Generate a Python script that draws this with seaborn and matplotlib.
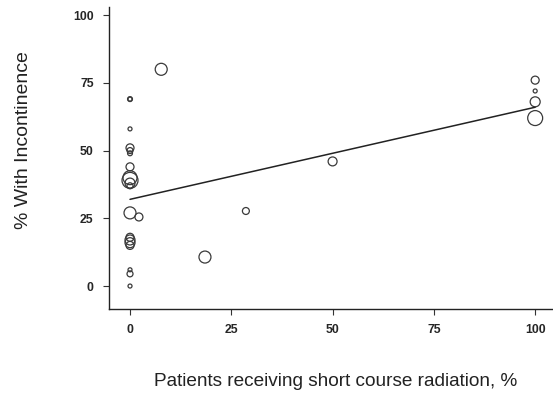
import matplotlib
matplotlib.use("Agg")
import matplotlib.pyplot as plt
import seaborn as sns
import pandas as pd
import numpy as np

# Data
short_course_pct = [0, 0, 0, 0, 0, 0, 0, 0, 0, 0, 0, 0, 0, 0, 0, 0, 0, 0, 0,
                    2.2, 7.7, 18.5, 28.6, 50, 100, 100, 100, 100]
incontinence_pct = [69, 69, 58, 51, 50, 49, 44, 40, 39, 38, 37, 27, 18, 17, 16, 15, 6, 4.5, 0,
                    25.5, 80, 10.7, 27.7, 46, 76, 72, 68, 62]
study_weight = [60, 40, 40, 160, 90, 60, 160, 490, 640, 250, 90, 360, 160, 250, 250, 160, 40, 90, 40,
                160, 360, 360, 120, 200, 160, 40, 250, 560]
fit_x = [0, 100]
fit_y = [32, 66]
x_ticks = [0, 25, 50, 75, 100]
y_ticks = [0, 25, 50, 75, 100]

df = pd.DataFrame({"x": short_course_pct, "y": incontinence_pct, "w": study_weight})
fit = pd.DataFrame({"x": fit_x, "y": fit_y})

sns.set_style("white")
plt.rcParams["font.family"] = ["Liberation Sans", "DejaVu Sans"]

fig = plt.figure(figsize=(5.53, 4.11), dpi=100)
ax = fig.add_axes([0.197, 0.248, 0.803, 0.735])

wmin, wmax = min(study_weight), max(study_weight)
sns.scatterplot(data=df, x="x", y="y", size="w", sizes=(wmin * 0.207, wmax * 0.207),
                size_norm=(wmin, wmax), legend=False, ax=ax,
                facecolor="none", edgecolor="#3a3a3a", linewidth=0.9)
sns.lineplot(data=fit, x="x", y="y", ax=ax, color="#222222", linewidth=1.1)

ax.set_xlim(-5.2, 104.4)
ax.set_ylim(-8.5, 103)
ax.set_xticks(x_ticks)
ax.set_yticks(y_ticks)
ax.set_xticklabels([str(t) for t in x_ticks], fontsize=8.8, fontweight="bold")
ax.set_yticklabels([str(t) for t in y_ticks], fontsize=8.8, fontweight="bold")
ax.tick_params(axis="both", direction="out", length=4, width=0.8, color="#333333",
               bottom=True, left=True)
ax.tick_params(axis="x", pad=7)
ax.tick_params(axis="y", pad=7)
for s in ["top", "right"]:
    ax.spines[s].set_visible(False)
for s in ["left", "bottom"]:
    ax.spines[s].set_color("#222222")
    ax.spines[s].set_linewidth(1.0)

ax.set_xlabel("Patients receiving short course radiation, %", fontsize=13.7, color="#222222")
ax.set_ylabel("% With Incontinence", fontsize=14, color="#222222")
ax.xaxis.set_label_coords(0.51, -0.212)
ax.yaxis.set_label_coords(-0.173, 0.56)

fig.savefig("out.png", dpi=100)
